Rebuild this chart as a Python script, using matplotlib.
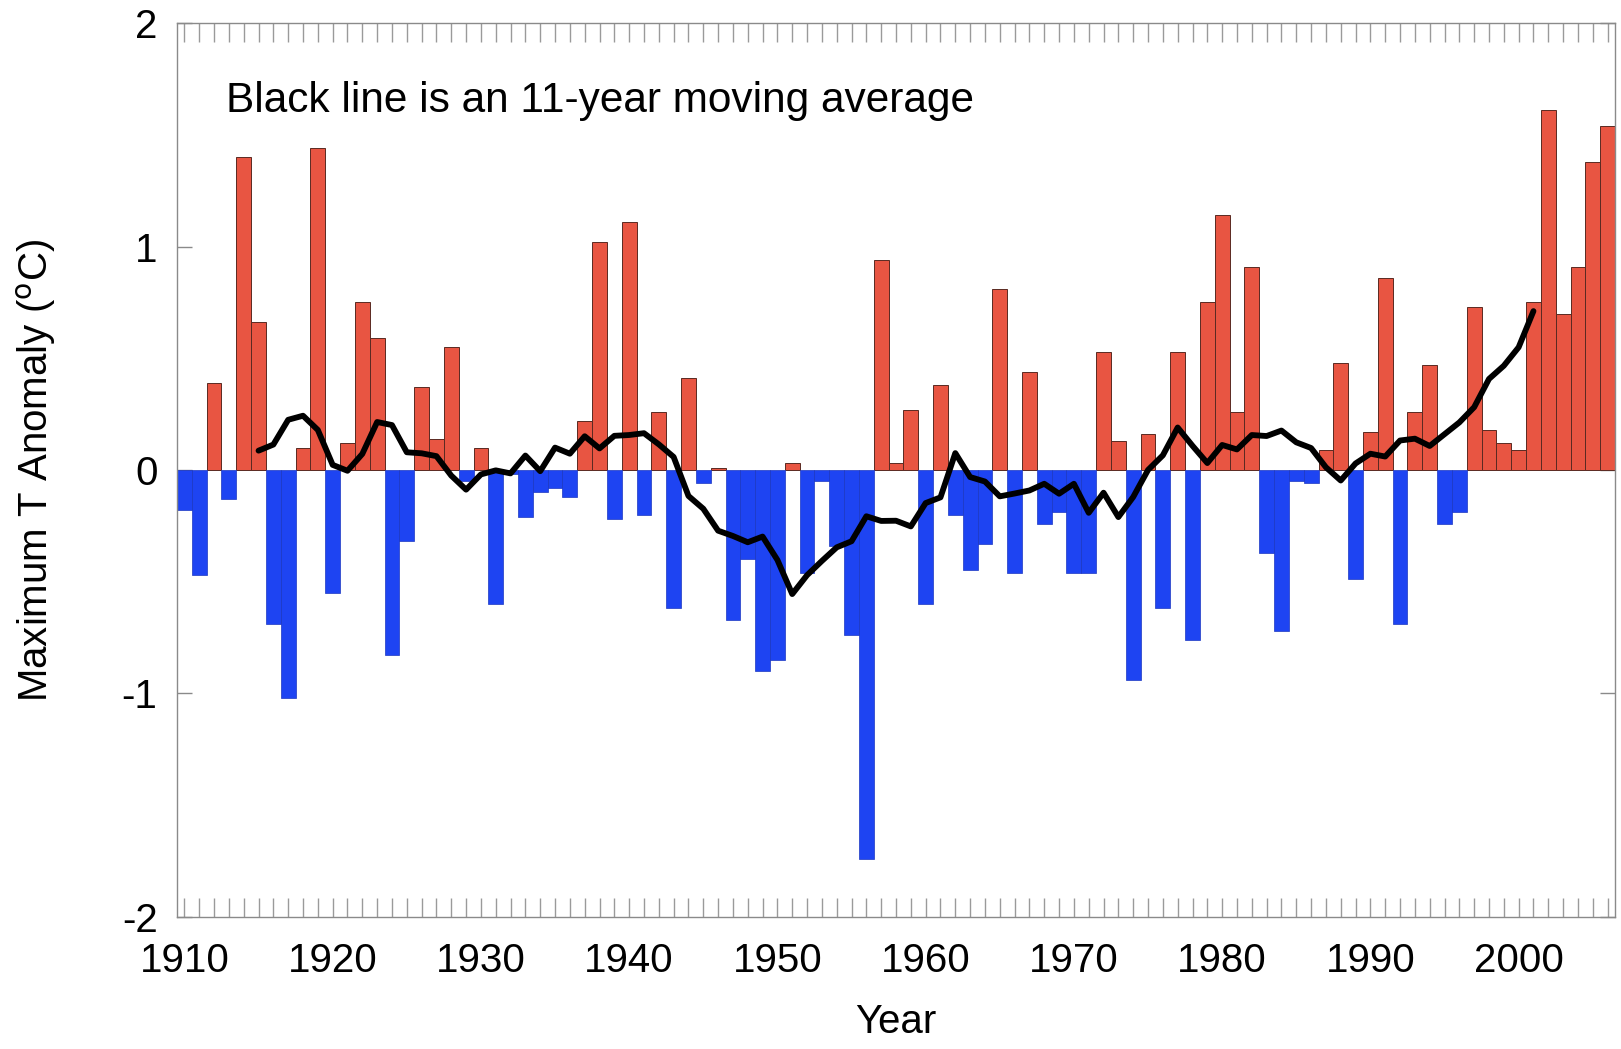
import numpy as np
import pandas as pd
import matplotlib
matplotlib.use("Agg")
import matplotlib.pyplot as plt
from matplotlib.ticker import MultipleLocator

# === Data ===
years = list(range(1910, 2007))
anomaly = [
    -0.18, -0.47, 0.39, -0.13, 1.40, 0.66, -0.69, -1.02, 0.10, 1.44,   # 1910s
    -0.55, 0.12, 0.75, 0.59, -0.83, -0.32, 0.37, 0.14, 0.55, -0.05,    # 1920s
    0.10, -0.60, -0.02, -0.21, -0.10, -0.08, -0.12, 0.22, 1.02, -0.22, # 1930s
    1.11, -0.20, 0.26, -0.62, 0.41, -0.06, 0.01, -0.67, -0.40, -0.90,  # 1940s
    -0.85, 0.03, -0.46, -0.05, -0.34, -0.74, -1.74, 0.94, 0.03, 0.27,  # 1950s
    -0.60, 0.38, -0.20, -0.45, -0.33, 0.81, -0.46, 0.44, -0.24, -0.19, # 1960s
    -0.46, -0.46, 0.53, 0.13, -0.94, 0.16, -0.62, 0.53, -0.76, 0.75,   # 1970s
    1.14, 0.26, 0.91, -0.37, -0.72, -0.05, -0.06, 0.09, 0.48, -0.49,   # 1980s
    0.17, 0.86, -0.69, 0.26, 0.47, -0.24, -0.19, 0.73, 0.18, 0.12,     # 1990s
    0.09, 0.75, 1.61, 0.70, 0.91, 1.38, 1.54,                          # 2000s
]
decade_ticks = list(range(1910, 2001, 10))
y_ticks = [-2, -1, 0, 1, 2]
note = "Black line is an 11-year moving average"

df = pd.DataFrame({"Year": years, "Anomaly": anomaly})
df["MA11"] = df["Anomaly"].rolling(11, center=True).mean()

# === Plotting ===
plt.rcParams["font.family"] = ["Liberation Sans", "DejaVu Sans"]
plt.rcParams["axes.unicode_minus"] = False

fig = plt.figure(figsize=(16.21, 10.49), dpi=100)
ax = fig.add_axes([0.1092, 0.126, 0.8871, 0.852])

red = "#E85542"
blue = "#1E44F2"
pos = df["Anomaly"] >= 0
ax.bar(df["Year"][pos], df["Anomaly"][pos], width=1.0, color=red,
       edgecolor="#5a2a22", linewidth=0.7, zorder=2)
ax.bar(df["Year"][~pos], df["Anomaly"][~pos], width=1.0, color=blue,
       edgecolor="#1a36c0", linewidth=0.5, zorder=2)

ax.plot(df["Year"], df["MA11"], color="black", linewidth=4.2, zorder=3,
        solid_joinstyle="round", solid_capstyle="round")

ax.set_xlim(1909.5, 2006.5)
ax.set_ylim(-2, 2)

ax.set_xticks(decade_ticks)
ax.xaxis.set_minor_locator(MultipleLocator(1))
ax.set_yticks(y_ticks)

for s in ax.spines.values():
    s.set_color("#8a8a8a")
    s.set_linewidth(1.0)

ax.tick_params(axis="x", which="both", direction="in", top=True, bottom=True,
               length=14, width=1.0, color="#9a9a9a", labelsize=29, pad=18)
ax.tick_params(axis="y", which="both", direction="in", left=True, right=True,
               length=11, width=1.0, color="#8a8a8a", labelsize=29, pad=14)

ax.set_xlabel("Year", fontsize=29, labelpad=17)
ax.set_ylabel("Maximum T Anomaly ($^{\\mathsf{o}}$C)", fontsize=29, labelpad=46)

ax.text(0.034, 0.9004, note, transform=ax.transAxes, fontsize=30.5,
        ha="left", va="baseline")

fig.savefig("out.png", dpi=100, facecolor="white")
plt.close(fig)
